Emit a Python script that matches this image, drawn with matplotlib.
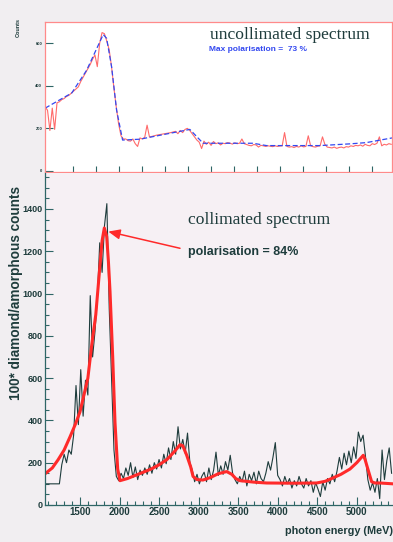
import matplotlib
matplotlib.use("Agg")
import matplotlib.pyplot as plt
from matplotlib import font_manager
from matplotlib.ticker import MultipleLocator
import numpy as np

# ---------------------------------------------------------------- data
# bin centres (MeV) shared by both measured spectra
energy = np.arange(1060, 5441, 30)

# uncollimated spectrum, raw counts
uncoll_counts = [
    300, 285, 190, 295, 195, 320, 325, 335, 340, 350, 355, 365, 375, 385, 395,
    420, 440, 460, 480, 500, 525, 545, 490, 600, 650, 645, 610, 570, 490, 390,
    300, 220, 165, 150, 150, 142, 140, 150, 128, 115, 155, 150, 158, 215, 160,
    162, 165, 168, 170, 172, 174, 176, 178, 180, 183, 186, 175, 190, 180, 195,
    200, 190, 175, 160, 145, 135, 105, 140, 125, 135, 120, 138, 128, 132, 122,
    130, 128, 133, 130, 126, 132, 128, 130, 150, 128, 124, 120, 118, 124, 122,
    112, 120, 118, 115, 118, 116, 114, 118, 115, 117, 118, 180, 115, 112, 114,
    110, 115, 112, 118, 113, 115, 165, 118, 114, 112, 116, 118, 160, 125, 112,
    110, 108, 112, 106, 110, 112, 108, 114, 112, 118, 115, 120, 118, 122, 116,
    125, 120, 118, 128, 124, 130, 160, 118, 125, 122, 128, 125,
]

# fitted curve for the uncollimated spectrum
uncoll_fit_e = [1060, 1396, 1585, 1795, 1838, 1901, 1964, 2040, 2259, 2891,
                3059, 3691, 3861, 4535, 4914, 5125, 5450]
uncoll_fit_v = [295, 366, 473, 641, 623, 489, 286, 145, 149, 195,
                130, 130, 119, 119, 127, 133, 155]

# collimated spectrum, 100 * diamond / amorphous counts
coll_ratio = [
    100, 100, 100, 100, 100, 100, 100, 190, 240, 200, 260, 240, 330, 565, 380,
    640, 420, 590, 520, 990, 700, 820, 980, 1240, 1100, 1320, 1425, 930, 600, 260,
    135, 115, 150, 125, 175, 140, 200, 130, 180, 120, 165, 140, 175, 145, 190,
    150, 200, 170, 215, 175, 240, 195, 270, 215, 300, 240, 370, 265, 310, 245,
    340, 200, 165, 110, 145, 100, 135, 155, 110, 175, 120, 165, 250, 140, 185,
    145, 205, 165, 235, 150, 120, 100, 135, 110, 160, 90, 145, 115, 155, 100,
    160, 125, 110, 150, 205, 165, 225, 295, 140, 120, 90, 135, 100, 125, 80,
    115, 90, 135, 100, 80, 125, 90, 115, 60, 105, 75, 40, 110, 70, 125,
    100, 145, 110, 160, 225, 170, 245, 190, 255, 200, 275, 220, 345, 300, 330,
    230, 120, 70, 105, 60, 125, 30, 260, 120, 210, 270, 150,
]

# fitted curve for the collimated spectrum
coll_fit_e = [1060, 1150, 1222, 1300, 1374, 1440, 1500, 1550, 1600, 1650,
              1700, 1750, 1780, 1808, 1838, 1860, 1880, 1914, 1943, 1977,
              2006, 2100, 2200, 2300, 2400, 2500, 2600, 2700, 2765, 2800,
              2849, 2900, 2930, 2980, 3056, 3150, 3250, 3355, 3420, 3470,
              3523, 3700, 3861, 4200, 4493, 4600, 4700, 4800, 4914, 5000,
              5082, 5105, 5140, 5188, 5230, 5293, 5458]
coll_fit_v = [148, 175, 213, 260, 322, 380, 440, 520, 600, 760,
              900, 1120, 1250, 1310, 1270, 1150, 1010, 700, 390, 170,
              115, 125, 140, 155, 170, 190, 215, 255, 285, 280,
              236, 180, 135, 120, 118, 130, 148, 158, 145, 125,
              115, 108, 104, 103, 104, 112, 128, 145, 170, 200,
              235, 215, 170, 110, 104, 104, 100]

top_yticks = [0, 200, 400, 600]
top_xticks = [1408, 1699, 1990, 2281, 2572, 2863, 3154, 3445, 3736, 4027,
              4318, 4609, 4900, 5191]
bot_yticks = [0, 200, 400, 600, 800, 1000, 1200, 1400]
bot_xticks = [1500, 2000, 2500, 3000, 3500, 4000, 4500, 5000]

# ---------------------------------------------------------------- style
names = {f.name for f in font_manager.fontManager.ttflist}
sans = "Liberation Sans" if "Liberation Sans" in names else "DejaVu Sans"
serif = "Liberation Serif" if "Liberation Serif" in names else "DejaVu Serif"

ink = "#1e3c3c"
tick_col = "#2f6666"
red = "#ff2a2a"
pink = "#ff8a8a"
blue = "#3348f0"

fig = plt.figure(figsize=(3.93, 5.42), dpi=100, facecolor="#f1eef1")

# ---------------------------------------------------------------- top panel
ax_t = fig.add_axes([0.1145, 0.6827, 0.883, 0.2768], facecolor="white")
ax_t.plot(energy, uncoll_counts, color="#ff6a6a", lw=0.8)
ax_t.plot(uncoll_fit_e, uncoll_fit_v, color=blue, lw=0.9, dashes=(4, 2))
ax_t.set_xlim(1058, 5450)
ax_t.set_ylim(-5, 700)
for s in ax_t.spines.values():
    s.set_color(pink)
    s.set_linewidth(0.9)
ax_t.set_yticks(top_yticks)
ax_t.set_yticklabels([str(v) for v in top_yticks], fontsize=3,
                     fontfamily=sans, fontweight="bold", color=ink)
ax_t.set_xticks(top_xticks)
ax_t.set_xticklabels([])
ax_t.tick_params(axis="y", direction="in", length=6, width=0.8,
                 color=tick_col, pad=2)
ax_t.tick_params(axis="x", direction="in", length=4, width=0.8,
                 color=tick_col)
ax_t.set_ylabel("Counts", fontsize=4, fontfamily=sans, fontweight="bold",
                color=ink)
ax_t.yaxis.set_label_coords(-0.07, 0.96)
ax_t.text(4155, 638, "uncollimated spectrum", fontsize=12.6, fontfamily=serif,
          color=ink, ha="center", va="center")
ax_t.text(3131, 572, "Max polarisation =  73 %", fontsize=6, fontfamily=sans,
          fontweight="bold", color=blue, ha="left", va="center")

# ---------------------------------------------------------------- bottom panel
ax_b = fig.add_axes([0.1145, 0.0683, 0.8855, 0.6125], facecolor="#f6f0f4")
ax_b.plot(energy, coll_ratio, color=ink, lw=0.8)
ax_b.plot(coll_fit_e, coll_fit_v, color=red, lw=2.2, solid_capstyle="round")
ax_b.set_xlim(1058, 5458)
ax_b.set_ylim(0, 1570)
ax_b.spines["top"].set_visible(False)
ax_b.spines["right"].set_visible(False)
for side in ("left", "bottom"):
    ax_b.spines[side].set_color(tick_col)
    ax_b.spines[side].set_linewidth(0.9)
ax_b.set_yticks(bot_yticks)
ax_b.set_yticklabels([str(v) for v in bot_yticks], fontsize=6.5,
                     fontfamily=sans, fontweight="bold", color=ink)
ax_b.set_xticks(bot_xticks)
ax_b.set_xticklabels([str(v) for v in bot_xticks], fontsize=7,
                     fontfamily=sans, fontweight="bold", color=ink)
ax_b.yaxis.set_minor_locator(MultipleLocator(50))
ax_b.xaxis.set_minor_locator(MultipleLocator(100))
ax_b.tick_params(which="major", direction="in", length=6, width=0.8,
                 color=tick_col, pad=1.5)
ax_b.tick_params(which="minor", direction="in", length=3, width=0.8,
                 color=tick_col)
ax_b.set_ylabel("100* diamond/amorphous counts", fontsize=9.8,
                fontfamily=sans, fontweight="bold", color=ink)
ax_b.yaxis.set_label_coords(-0.062, 0.64)
ax_b.set_xlabel("photon energy (MeV)", fontsize=7.8, fontfamily=sans,
                fontweight="bold", color=ink, ha="right")
ax_b.xaxis.set_label_coords(1.0, -0.062)

ax_b.text(2866, 1348, "collimated spectrum", fontsize=12.6, fontfamily=serif,
          color=ink, ha="left", va="center")
ax_b.text(2866, 1197, "polarisation = 84%", fontsize=9, fontfamily=sans,
          fontweight="bold", color=ink, ha="left", va="center")
ax_b.annotate("", xy=(1858, 1293), xytext=(2765, 1214),
              arrowprops=dict(arrowstyle="-|>,head_length=0.7,head_width=0.3",
                              color=red, lw=1.1, shrinkA=0, shrinkB=0))

fig.savefig("out.png", dpi=100, facecolor=fig.get_facecolor())
